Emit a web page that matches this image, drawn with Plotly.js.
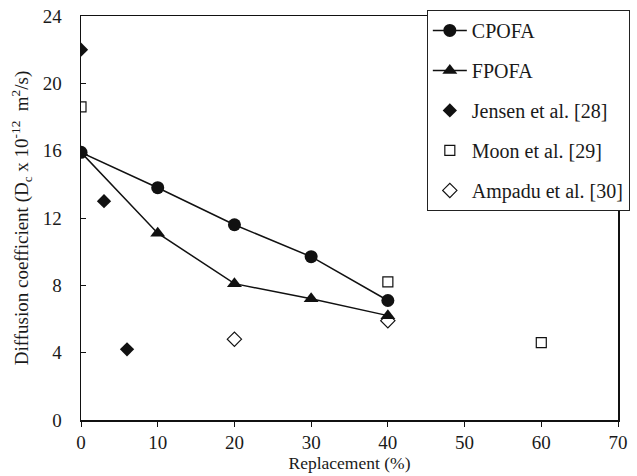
<!DOCTYPE html>
<html><head><meta charset="utf-8">
<script src="https://cdn.plot.ly/plotly-3.0.1.min.js"></script>
<style>body{margin:0;padding:0;background:#fff}#chart{width:637px;height:476px}</style>
</head><body><div id="chart"></div>
<script>
const cpofaX = [0, 10, 20, 30, 40];
const cpofaY = [15.9, 13.8, 11.6, 9.7, 7.1];
const fpofaX = [0, 10, 20, 30, 40];
const fpofaY = [15.9, 11.1, 8.1, 7.2, 6.2];
const jensenX = [0, 3, 6];
const jensenY = [22, 13, 4.2];
const moonX = [0, 40, 60];
const moonY = [18.6, 8.2, 4.6];
const ampaduX = [20, 40];
const ampaduY = [4.8, 5.9];
const xTicks = [0, 10, 20, 30, 40, 50, 60, 70];
const yTicks = [0, 4, 8, 12, 16, 20, 24];

const fam = "'Liberation Serif', 'Times New Roman', serif";
const font = {family: fam, size: 18, color: '#1a1a1a'};
const traces = [
  {x: cpofaX, y: cpofaY, name: 'CPOFA', mode: 'lines+markers', legendgroup: 'a',
   line: {color: '#111', width: 1.5}, marker: {symbol: 'circle', size: 13, color: '#111'}},
  {x: fpofaX, y: fpofaY, name: 'FPOFA', mode: 'lines+markers', legendgroup: 'b',
   line: {color: '#111', width: 1.5}, marker: {symbol: 'triangle-up', size: 13, color: '#111'}},
  {x: jensenX, y: jensenY, name: 'Jensen et al. [28]', mode: 'markers', legendgroup: 'c',
   marker: {symbol: 'diamond', size: 11, color: '#111'}},
  {x: moonX, y: moonY, name: 'Moon et al. [29]', mode: 'markers', legendgroup: 'd',
   marker: {symbol: 'square-open', size: 10, color: '#111', line: {width: 1.2}}},
  {x: ampaduX, y: ampaduY, name: 'Ampadu et al. [30]', mode: 'markers', legendgroup: 'e',
   marker: {symbol: 'diamond-open', size: 11, color: '#111', line: {width: 1.2}}}
];
const layout = {
  width: 637, height: 476,
  margin: {l: 81, r: 19, t: 16, b: 56, autoexpand: false},
  paper_bgcolor: '#fff', plot_bgcolor: '#fff',
  font: font,
  showlegend: true,
  legend: {x: 0.644, xanchor: 'left', y: 1.015, yanchor: 'top',
    bgcolor: '#fff', bordercolor: '#222', borderwidth: 1, itemwidth: 34,
    traceorder: 'grouped', tracegroupgap: 11, font: {family: fam, size: 20, color: '#1a1a1a'}},
  xaxis: {range: [0, 70], tickvals: xTicks, ticks: 'outside', ticklen: 5, tickcolor: '#111',
    showline: true, linecolor: '#111', linewidth: 1.5, mirror: true, showgrid: false, zeroline: false,
    tickfont: {size: 19}, title: {text: 'Replacement (%)', font: {size: 17.5}, standoff: 0}},
  yaxis: {range: [0, 24], tickvals: yTicks, ticks: 'inside', ticklen: 5, tickcolor: '#111',
    ticklabelstandoff: 14,
    showline: true, linecolor: '#111', linewidth: 1.5, mirror: true, showgrid: false, zeroline: false,
    tickfont: {size: 19},
    title: {text: 'Diffusion coefficient (D<sub>c</sub> x 10<sup>-12</sup>  m<sup>2</sup>/s)', font: {size: 19}, standoff: 9}}
};
Plotly.newPlot('chart', traces, layout, {displayModeBar: false, staticPlot: true});
</script></body></html>
